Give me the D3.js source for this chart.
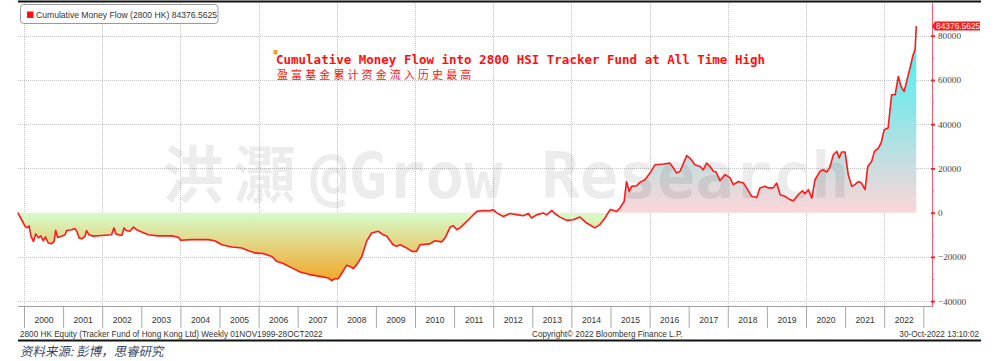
<!DOCTYPE html>
<html><head><meta charset="utf-8">
<script src="https://cdn.jsdelivr.net/npm/d3@7/dist/d3.min.js"></script>
<style>body{margin:0;background:#fff} svg{display:block}</style>
</head><body><svg id="c" width="1000" height="361"></svg>
<script>
// ---- data (decimal year, cumulative money flow) ----
const dates = [1999.84,1999.94,2000.03,2000.09,2000.13,2000.18,2000.24,2000.30,2000.37,2000.43,2000.49,2000.55,2000.62,2000.71,2000.77,2000.81,2000.86,2000.96,
2001.05,2001.09,2001.22,2001.30,2001.35,2001.41,2001.48,2001.56,2001.60,2001.66,2001.77,2001.99,
2002.24,2002.30,2002.35,2002.50,2002.56,2002.61,2002.71,2002.80,2002.88,
2003.01,2003.18,2003.43,2003.78,2003.95,2004.01,2004.29,2004.71,2004.88,
2005.06,2005.31,2005.57,2005.74,2005.91,2006.12,2006.34,2006.46,2006.63,2006.89,
2007.06,2007.31,2007.57,2007.78,2007.87,2007.95,2008.04,2008.13,2008.25,2008.34,2008.42,2008.51,2008.64,2008.76,2008.89,
2009.06,2009.19,2009.28,2009.44,2009.53,2009.62,2009.79,2009.92,2010.04,2010.13,2010.38,2010.51,2010.68,2010.77,2010.90,2010.98,
2011.07,2011.15,2011.28,2011.41,2011.58,2011.75,2011.92,2012.00,2012.09,2012.26,2012.43,2012.60,2012.77,2012.90,2012.98,
2013.11,2013.28,2013.37,2013.50,2013.58,2013.71,2013.88,2014.05,2014.22,2014.39,2014.60,2014.73,2014.86,2014.99,
2015.16,2015.24,2015.35,2015.41,2015.48,2015.54,2015.67,2015.75,2015.88,2016.01,2016.14,2016.35,2016.52,2016.61,2016.69,2016.78,2016.95,
2017.03,2017.16,2017.29,2017.37,2017.46,2017.54,2017.63,2017.70,2017.80,2017.93,2018.06,2018.14,2018.27,2018.40,2018.48,2018.61,2018.74,2018.82,2018.95,
2019.04,2019.16,2019.25,2019.34,2019.46,2019.59,2019.68,2019.80,2019.91,2019.97,2020.06,2020.15,2020.23,2020.36,2020.44,2020.53,2020.61,2020.70,2020.79,2020.85,2020.91,
2021.00,2021.08,2021.17,2021.25,2021.34,2021.42,2021.51,2021.58,2021.68,2021.75,2021.85,2021.92,2022.00,2022.10,2022.19,2022.28,2022.36,2022.43,2022.51,2022.60,2022.66,2022.74,2022.79,2022.82];
const flows = [0,-3200,-6200,-6800,-6000,-10700,-13000,-9600,-11400,-10500,-12700,-11000,-13700,-14000,-13000,-8000,-11200,-10700,
-10000,-8100,-7700,-7200,-8400,-11400,-11800,-10700,-8100,-10000,-10600,-10300,
-10000,-6900,-9600,-10300,-6900,-8100,-8400,-6500,-7700,
-8700,-10000,-10500,-10500,-11100,-12500,-12200,-12200,-12700,
-14500,-15500,-16000,-17200,-18200,-18500,-19800,-22000,-23000,-25300,
-26800,-28000,-28800,-29500,-30700,-29900,-29800,-27300,-23800,-24300,-25300,-23500,-19800,-13000,-9200,
-8400,-10000,-10700,-14500,-15200,-14500,-16000,-17500,-17500,-14500,-14100,-12700,-13200,-11400,-6500,-5900,
-7700,-6900,-4700,-2400,600,1000,900,1400,-100,-1700,-400,-900,-1400,-400,-2400,
-1000,-150,-1000,1000,-500,-2000,-3500,-3200,-2000,-4700,-6900,-5400,-2400,1400,
600,2100,5100,14100,9600,11900,12200,13700,14900,17900,21700,22000,22400,20200,17900,18700,25800,
24700,21700,20900,19400,22400,21000,18700,18400,14500,17200,15700,12700,14100,13400,11200,7400,6900,11200,11900,
11200,11200,13400,8100,7400,5900,5400,8100,9900,8600,10400,6600,14900,18700,19400,18400,20500,26200,27700,24700,27400,
27400,17200,11900,12700,14100,13400,10400,20900,23200,27700,29200,31500,37500,38300,53300,53300,61600,57100,54800,61200,65400,71400,73700,84376.5625];
const years = d3.range(2000, 2023);                 // year labels
const yTicks = [-40000,-20000,0,20000,40000,60000,80000];
const yMinor = [-30000,-10000,10000,30000,50000,70000];
const gridYears = d3.range(2000, 2023, 2);
const lastValue = 84376.5625;
const seriesName = "Cumulative Money Flow (2800 HK)";
const titleEn = "Cumulative Money Flow into 2800 HSI Tracker Fund at All Time High";
const titleZh = "盈富基金累计资金流入历史最高";
const footLeft = "2800 HK Equity (Tracker Fund of Hong Kong Ltd)  Weekly 01NOV1999-28OCT2022";
const footMid = "Copyright© 2022 Bloomberg Finance L.P.";
const footRight = "30-Oct-2022 13:10:02";
const source = "资料来源: 彭博，思睿研究";

// ---- layout ----
const svg = d3.select("#c");
const L = 18, R = 932, T = 3, B = 306;
const x = d3.scaleLinear().domain([2000, 2023]).range([24, 923.3]);
const y = d3.scaleLinear().domain([-42200, 94800]).range([B, T]);
const data = dates.map((d, i) => ({t: d, v: flows[i]}));

// gradient
const defs = svg.append("defs");
const vmax = d3.max(flows), vmin = d3.min(flows);
const z = (y(0) - y(vmax)) / (y(vmin) - y(vmax));
const g = defs.append("linearGradient").attr("id", "fillg").attr("gradientUnits", "userSpaceOnUse")
  .attr("x1", 0).attr("x2", 0).attr("y1", y(vmax)).attr("y2", y(vmin));
[[0, "#36f2f2"], [z * 0.45, "#8ce6e8"], [z, "#fcd6d8"], [z, "#d6fccc"], [1, "#f2a828"]]
  .forEach(([o, c]) => g.append("stop").attr("offset", o).attr("stop-color", c));

// grid
const grid = svg.append("g").attr("stroke", "#c4c4c4").attr("stroke-dasharray", "1,1").attr("stroke-width", 1);
grid.selectAll(".gh").data(yTicks.filter(d => d !== 0)).join("line")
  .attr("x1", L).attr("x2", R).attr("y1", d => Math.round(y(d)) + 0.5).attr("y2", d => Math.round(y(d)) + 0.5);
grid.selectAll(".gv").data(gridYears).join("line")
  .attr("y1", T).attr("y2", B).attr("x1", d => Math.round(x(d)) + 0.5).attr("x2", d => Math.round(x(d)) + 0.5);

// area
const area = d3.area().x(d => x(d.t)).y0(y(0)).y1(d => y(d.v));
svg.append("path").datum(data).attr("d", area).attr("fill", "url(#fillg)");

// watermark
const wm = svg.append("g").attr("fill", "#000").attr("fill-opacity", 0.075).attr("font-weight", "bold");
wm.append("text").attr("x", 162).attr("y", 198).attr("font-family", "Noto Sans CJK SC")
  .attr("font-size", 62).attr("letter-spacing", 10).text("洪灝");
wm.append("text").attr("x", 310).attr("y", 198).attr("font-family", "DejaVu Sans Mono")
  .attr("font-size", 64).text("@Grow Research");

// line
const line = d3.line().x(d => x(d.t)).y(d => y(d.v));
svg.append("path").datum(data).attr("d", line).attr("fill", "none")
  .attr("stroke", "#ff1a1a").attr("stroke-width", 1.6).attr("stroke-linejoin", "round");

// plot bottom border
svg.append("line").attr("x1", L).attr("x2", R).attr("y1", B + 0.5).attr("y2", B + 0.5).attr("stroke", "#a0a0a0");

// x axis: year boundary ticks + centered labels
const xa = svg.append("g").attr("transform", `translate(0,${B})`)
  .call(d3.axisBottom(x).tickValues(d3.range(2000, 2024)).tickSize(22).tickFormat(""));
xa.select(".domain").remove();
xa.selectAll("line").attr("stroke", "#a8a8a8");
const xl = svg.append("g").attr("transform", `translate(0,${B})`)
  .call(d3.axisBottom(x).tickValues(years.map(d => d + 0.5)).tickSize(0).tickPadding(11).tickFormat(d => Math.floor(d)));
xl.select(".domain").remove();
xl.selectAll("text").attr("font-family", "Liberation Sans").attr("font-size", 8.6).attr("fill", "#333");

// right axis
const ya = svg.append("g").attr("transform", `translate(${R},0)`)
  .call(d3.axisRight(y).tickValues(yTicks).tickSize(3).tickPadding(3).tickFormat(d3.format("d")));
ya.select(".domain").attr("stroke", "#ff5a70").attr("d", `M0.5,${T}V${B + 1}`);
ya.selectAll(".tick line").attr("stroke", "#ff2030").attr("stroke-width", 2).attr("x1", -1);
ya.selectAll("text").attr("font-family", "Liberation Serif").attr("font-size", 9.2).attr("fill", "#444");
const ym = svg.append("g").attr("transform", `translate(${R},0)`)
  .call(d3.axisRight(y).tickValues(yMinor).tickSize(2).tickFormat(""));
ym.select(".domain").remove();
ym.selectAll("line").attr("stroke", "#ff6070");

// last value label
const ly = y(lastValue);
svg.append("path").attr("d", `M${R},${ly}L${R + 3},${ly - 4.5}H980V${ly + 4.5}H${R + 3}Z`).attr("fill", "#ff1a1a");
svg.append("text").attr("x", R + 4).attr("y", ly + 3).attr("font-family", "Liberation Sans")
  .attr("font-size", 8.4).attr("fill", "#fff").text(lastValue.toString());

// legend
svg.append("rect").attr("x", 20.5).attr("y", 4.5).attr("width", 197.5).attr("height", 19).attr("rx", 3)
  .attr("fill", "#fff").attr("stroke", "#9a9a9a");
svg.append("rect").attr("x", 27).attr("y", 11.5).attr("width", 6.5).attr("height", 6.5).attr("fill", "#ff1010");
svg.append("text").attr("x", 36).attr("y", 17.8).attr("font-family", "Liberation Sans").attr("font-size", 8.6)
  .attr("fill", "#333").text(`${seriesName} ${lastValue}`);

// annotation
svg.append("rect").attr("x", 273.5).attr("y", 50).attr("width", 4).attr("height", 4.5).attr("fill", "#f0a030");
svg.append("text").attr("x", 276).attr("y", 63.5).attr("font-family", "DejaVu Sans Mono").attr("font-weight", "bold")
  .attr("font-size", 12.5).attr("fill", "#ff1010").attr("textLength", 489).attr("lengthAdjust", "spacingAndGlyphs").text(titleEn);
svg.append("text").attr("x", 277).attr("y", 78.5).attr("font-family", "Noto Sans CJK SC").attr("font-size", 11)
  .attr("letter-spacing", 3.1).attr("fill", "#ff1010").text(titleZh);

// footer
const ft = svg.append("g").attr("font-family", "Liberation Sans").attr("font-size", 8.2).attr("fill", "#333");
ft.append("text").attr("x", 20).attr("y", 337).text(footLeft);
ft.append("text").attr("x", 532).attr("y", 337).text(footMid);
ft.append("text").attr("x", 979).attr("y", 337).attr("text-anchor", "end").text(footRight);

// black rules
svg.append("line").attr("x1", 18).attr("x2", 981).attr("y1", 1.5).attr("y2", 1.5).attr("stroke", "#111").attr("stroke-width", 2);
svg.append("line").attr("x1", 18).attr("x2", 981).attr("y1", 340.5).attr("y2", 340.5).attr("stroke", "#111").attr("stroke-width", 2.2);

// source
svg.append("text").attr("transform", "translate(20,356) skewX(-12)").attr("font-family", "Noto Sans CJK SC")
  .attr("font-size", 12.5).attr("fill", "#3a4766").text(source);
</script></body></html>
